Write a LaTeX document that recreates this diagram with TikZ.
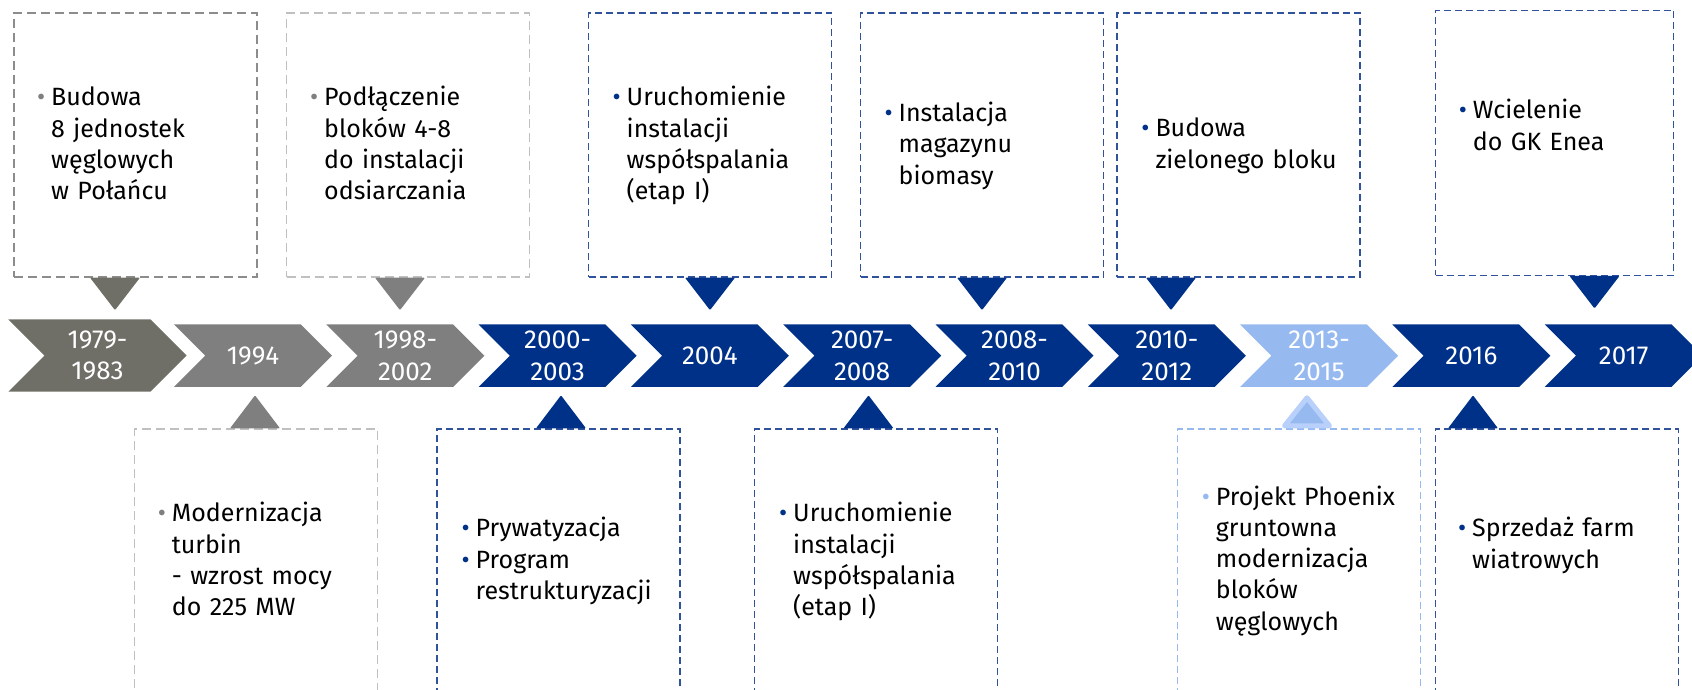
\documentclass[tikz,border=0pt]{standalone}
\usepackage{fontspec}
\setmainfont{Fira Sans}
\usetikzlibrary{shapes.symbols}

\definecolor{darkolive}{RGB}{111,111,103}
\definecolor{stonegray}{RGB}{127,127,127}
\definecolor{deepblue}{RGB}{0,49,137}
\definecolor{skyblue}{RGB}{150,186,240}
\definecolor{paleblue}{RGB}{184,208,250}
\definecolor{linegray}{RGB}{192,192,192}
\definecolor{lineslate}{RGB}{140,140,140}
\definecolor{lineblue}{RGB}{47,82,155}

\newcommand{\itm}[1]{\leavevmode\llap{\textcolor{#1}{\textbullet}\hspace{6pt}}}

\begin{document}
\begin{tikzpicture}[x=1pt, y=-1pt,
    every node/.style={inner sep=0pt, font=\fontsize{26}{31.3}\selectfont},
    chev/.style={signal, signal from=west, signal to=east, signal pointer angle=90,
        minimum width=158, minimum height=62.5, text=white, align=center},
    box/.style={draw, line width=1.3pt, dash pattern=on 7pt off 4pt,
        minimum width=243, minimum height=264},
    graybox/.style={box, dash pattern=on 9pt off 5pt},
    low/.style={minimum height=300},
    txt/.style={text width=210pt, align=left, anchor=base west,
        font=\fontsize{25}{31.3}\selectfont}
]
\useasboundingbox (0,0) rectangle (1692,690);
\clip (0,0) rectangle (1692,690);

% time line
\node[chev, fill=darkolive, minimum width=178.4, minimum height=72.4] (c1) at (97.5,355.5) {1979-\\1983};
\foreach \yr/\col [count=\i from 2] in {1994/stonegray, {1998-\\2002}/stonegray,
    {2000-\\2003}/deepblue, 2004/deepblue, {2007-\\2008}/deepblue, {2008-\\2010}/deepblue,
    {2010-\\2012}/deepblue, {2013-\\2015}/skyblue, 2016/deepblue, 2017/deepblue}
  \node[chev, fill=\col] (c\i) at ({253+152.3*(\i-2)},355.7) {\yr};

% boxes above
\node[graybox, draw=lineslate] (b1) at (135.4,145) {};
\node[graybox, draw=linegray] (b2) at (408,145) {};
\node[box, draw=lineblue] (b3) at (710,145) {};
\node[box, draw=lineblue] (b4) at (982,145) {};
\node[box, draw=lineblue] (b5) at (1238.6,145) {};
\node[box, draw=lineblue, minimum width=238, minimum height=265] (b6) at (1554.5,142.8) {};

% boxes below
\node[graybox, low, draw=linegray] (d1) at (256,579) {};
\node[box, low, draw=lineblue] (d2) at (558.4,579) {};
\node[box, low, draw=lineblue] (d3) at (876,579) {};
\node[box, low, draw=skyblue] (d4) at (1299.3,579) {};
\node[box, low, draw=lineblue] (d5) at (1556.7,579) {};

% pointers
\foreach \b/\dx/\col in {b1/-20.4/darkolive, b2/-8/stonegray, b3/0/deepblue,
    b4/0/deepblue, b5/-67.6/deepblue, b6/40/deepblue}
  \fill[\col, rounded corners=1pt] ([xshift=\dx-25]\b.south) -- ([xshift=\dx+25]\b.south)
    -- ([xshift=\dx, yshift=-32.5]\b.south) -- cycle;
\foreach \b/\dx/\col in {d1/-1/stonegray, d2/2.6/deepblue, d3/-7.5/deepblue, d5/-83.7/deepblue}
  \fill[\col, rounded corners=1pt] ([xshift=\dx-25]\b.north) -- ([xshift=\dx+25]\b.north)
    -- ([xshift=\dx, yshift=33]\b.north) -- cycle;
\filldraw[fill=skyblue, draw=paleblue, line width=5pt, line join=round]
  ([xshift=7.7-22.5, yshift=2.5]d4.north) -- ([xshift=7.7+22.5, yshift=2.5]d4.north)
  -- ([xshift=7.7, yshift=30.5]d4.north) -- cycle;

% texts
\node[txt] (t1) at (51,106) {\itm{stonegray}Budowa\\8 jednostek\\węglowych\\w Połańcu};
\node[txt] (t2) at (324,106) {\itm{stonegray}Podłączenie\\bloków 4-8\\do instalacji\\odsiarczania};
\node[txt] (t3) at (626.5,106) {\itm{deepblue}Uruchomienie\\instalacji\\współspalania\\(etap I)};
\node[txt] (t4) at (898.5,121.7) {\itm{deepblue}Instalacja\\magazynu\\biomasy};
\node[txt] (t5) at (1155.3,137) {\itm{deepblue}Budowa\\zielonego bloku};
\node[txt] (t6) at (1472.7,119) {\itm{deepblue}Wcielenie\\do GK Enea};
\node[txt] (s1) at (171.7,521.7) {\itm{stonegray}Modernizacja\\turbin\\- wzrost mocy\\do 225 MW};
\node[txt] (s2) at (475.5,536.7) {\itm{deepblue}Prywatyzacja\\\itm{deepblue}Program\\restrukturyzacji};
\node[txt] (s3) at (793,521.7) {\itm{deepblue}Uruchomienie\\instalacji\\współspalania\\(etap I)};
\node[txt] (s4) at (1215.7,505) {\itm{skyblue}Projekt Phoenix\\gruntowna\\modernizacja\\bloków\\węglowych};
\node[txt] (s5) at (1472,536.7) {\itm{deepblue}Sprzedaż farm\\wiatrowych};
\end{tikzpicture}
\end{document}
